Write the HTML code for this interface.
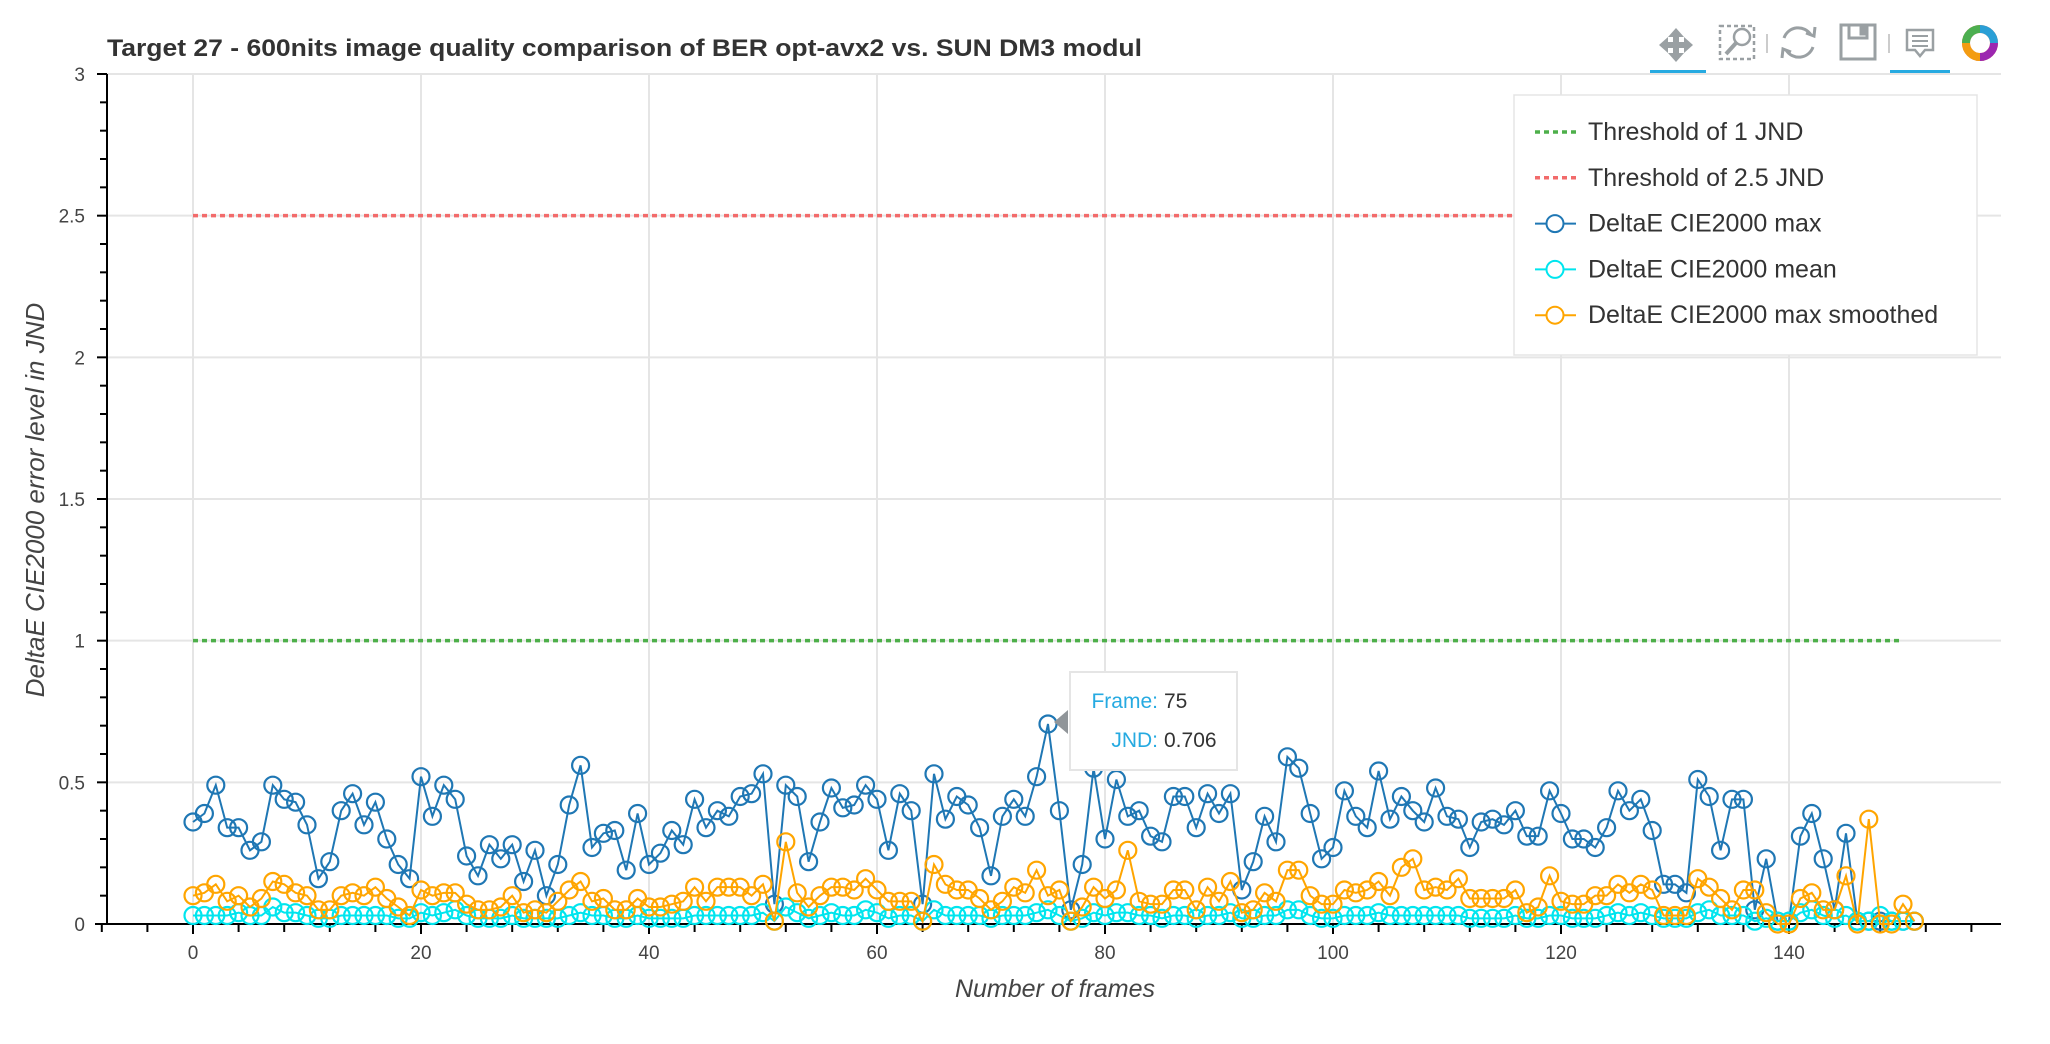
<!DOCTYPE html>
<html><head><meta charset="utf-8"><style>
html,body{margin:0;padding:0;background:#fff;}
svg{display:block;font-family:"Liberation Sans",Helvetica,Arial,sans-serif;}
</style></head><body>
<svg id="chart" width="2050" height="1044" viewBox="0 0 2050 1044" xmlns="http://www.w3.org/2000/svg">
<text x="107" y="56" font-size="24" font-weight="bold" fill="#333" textLength="1035" lengthAdjust="spacingAndGlyphs">Target 27 - 600nits image quality comparison of BER opt-avx2 vs. SUN DM3 modul</text>
<g id="toolbar">
  <g fill="#9aa0a3">
    <path d="M1676 28 l8 9 h-5 v5 h5 v-5 l9 8 -9 8 v-5 h-5 v5 h5 l-8 9 -8 -9 h5 v-5 h-5 v5 l-9 -8 9 -8 v5 h5 v-5 h-5z"/>
    <rect x="1650" y="70" width="56" height="4" fill="#26aae1"/>
  </g>
  <g fill="none" stroke="#9aa0a3" stroke-width="2.5">
    <rect x="1720" y="26" width="34" height="33" stroke-dasharray="4 3"/>
    <circle cx="1742" cy="37" r="8"/><line x1="1736" y1="43" x2="1726" y2="54" stroke-width="4"/>
  </g>
  <line x1="1767" y1="34" x2="1767" y2="53" stroke="#ccc" stroke-width="2"/>
  <g fill="none" stroke="#9aa0a3" stroke-width="3">
    <path d="M1784 38 a15 15 0 0 1 27 -3"/><path d="M1813 47 a15 15 0 0 1 -27 3"/>
    <path d="M1806 33 l8 3 1 -9" /><path d="M1791 52 l-8 -3 -1 9"/>
  </g>
  <g fill="none" stroke="#9aa0a3" stroke-width="3">
    <rect x="1841" y="25" width="34" height="34"/><rect x="1849" y="25" width="18" height="13"/>
    <rect x="1861" y="28" width="3" height="6" fill="#9aa0a3"/>
  </g>
  <line x1="1889" y1="34" x2="1889" y2="53" stroke="#ccc" stroke-width="2"/>
  <g>
    <path d="M1907 30 h26 v20 h-8 l-5 6 -5 -6 h-8z" fill="none" stroke="#9aa0a3" stroke-width="2.5"/>
    <line x1="1912" y1="36" x2="1928" y2="36" stroke="#9aa0a3" stroke-width="2"/>
    <line x1="1912" y1="41" x2="1928" y2="41" stroke="#9aa0a3" stroke-width="2"/>
    <line x1="1912" y1="46" x2="1928" y2="46" stroke="#9aa0a3" stroke-width="2"/>
    <rect x="1890" y="70" width="60" height="4" fill="#26aae1"/>
  </g>
  <g fill="none" stroke-width="8">
    <circle cx="1980" cy="43" r="14" stroke="#e63" />
    <path d="M1980 29 a14 14 0 0 1 14 14" stroke="#2a9fd6"/>
    <path d="M1994 43 a14 14 0 0 1 -14 14" stroke="#9c27b0"/>
    <path d="M1980 57 a14 14 0 0 1 -14 -14" stroke="#f39c12"/>
    <path d="M1966 43 a14 14 0 0 1 14 -14" stroke="#4caf50"/>
  </g>
</g>
<g id="grid"></g>
<g id="axes"></g>
<g id="series"></g>
<text transform="translate(44,500) rotate(-90)" text-anchor="middle" font-size="26" font-style="italic" fill="#444">DeltaE CIE2000  error level in JND</text>
<text x="1055" y="997" text-anchor="middle" font-size="25" font-style="italic" fill="#444">Number of frames</text>
<g id="legend">
  <rect x="1514" y="95" width="463" height="260" fill="#fff" stroke="#e5e5e5" stroke-width="1.5"/>
</g>
<g id="tooltip">
  <path d="M1054 722 L1068 710 L1068 734 Z" fill="#909599"/>
  <rect x="1070" y="672" width="167" height="98" fill="#fff" stroke="#e5e5e5" stroke-width="2"/>
  <text x="1158" y="708" text-anchor="end" font-size="21" fill="#26aae1">Frame:</text>
  <text x="1164" y="708" font-size="21" fill="#333">75</text>
  <text x="1158" y="747" text-anchor="end" font-size="21" fill="#26aae1">JND:</text>
  <text x="1164" y="747" font-size="21" fill="#333">0.706</text>
</g>
</svg>
<script>
const NS='http://www.w3.org/2000/svg';
const xTicks=[0,20,40,60,80,100,120,140];
const yTicks=[0,0.5,1,1.5,2,2.5,3];
const yTickLabels=['0','0.5','1','1.5','2','2.5','3'];
const thresholds=[1,2.5];
const maxVals=[0.36,0.39,0.49,0.34,0.34,0.26,0.29,0.49,0.44,0.43,0.35,0.16,0.22,0.40,0.46,0.35,0.43,0.30,0.21,0.16,0.52,0.38,0.49,0.44,0.24,0.17,0.28,0.23,0.28,0.15,0.26,0.10,0.21,0.42,0.56,0.27,0.32,0.33,0.19,0.39,0.21,0.25,0.33,0.28,0.44,0.34,0.40,0.38,0.45,0.46,0.53,0.07,0.49,0.45,0.22,0.36,0.48,0.41,0.42,0.49,0.44,0.26,0.46,0.40,0.07,0.53,0.37,0.45,0.42,0.34,0.17,0.38,0.44,0.38,0.52,0.706,0.40,0.05,0.21,0.55,0.30,0.51,0.38,0.40,0.31,0.29,0.45,0.45,0.34,0.46,0.39,0.46,0.12,0.22,0.38,0.29,0.59,0.55,0.39,0.23,0.27,0.47,0.38,0.34,0.54,0.37,0.45,0.40,0.36,0.48,0.38,0.37,0.27,0.36,0.37,0.35,0.40,0.31,0.31,0.47,0.39,0.30,0.30,0.27,0.34,0.47,0.40,0.44,0.33,0.14,0.14,0.11,0.51,0.45,0.26,0.44,0.44,0.05,0.23,0.01,0.01,0.31,0.39,0.23,0.05,0.32,0.01,0.01,0.01,0.01,0.01,0.01];
const meanVals=[0.03,0.03,0.03,0.03,0.04,0.03,0.03,0.06,0.04,0.04,0.03,0.02,0.02,0.03,0.03,0.03,0.03,0.03,0.02,0.02,0.04,0.03,0.04,0.05,0.03,0.02,0.02,0.02,0.03,0.02,0.02,0.02,0.02,0.03,0.04,0.03,0.03,0.02,0.02,0.03,0.02,0.02,0.02,0.02,0.03,0.03,0.03,0.03,0.03,0.03,0.04,0.01,0.06,0.04,0.02,0.03,0.04,0.03,0.03,0.05,0.04,0.02,0.03,0.03,0.01,0.05,0.03,0.03,0.03,0.03,0.02,0.03,0.03,0.03,0.04,0.05,0.03,0.01,0.02,0.04,0.03,0.04,0.04,0.03,0.03,0.02,0.03,0.03,0.02,0.03,0.03,0.04,0.02,0.02,0.03,0.03,0.05,0.05,0.03,0.02,0.02,0.03,0.03,0.03,0.04,0.03,0.03,0.03,0.03,0.03,0.03,0.03,0.02,0.02,0.02,0.02,0.03,0.02,0.02,0.03,0.03,0.02,0.02,0.02,0.03,0.04,0.03,0.04,0.03,0.02,0.02,0.02,0.04,0.05,0.03,0.03,0.03,0.01,0.02,0.01,0.01,0.04,0.05,0.03,0.02,0.03,0.01,0.01,0.03,0.01,0.01,0.01];
const smoothVals=[0.10,0.11,0.14,0.08,0.10,0.06,0.09,0.15,0.14,0.11,0.10,0.05,0.05,0.10,0.11,0.10,0.13,0.09,0.06,0.03,0.12,0.10,0.11,0.11,0.07,0.05,0.05,0.06,0.10,0.04,0.05,0.04,0.08,0.12,0.15,0.08,0.09,0.05,0.05,0.09,0.06,0.06,0.07,0.08,0.13,0.08,0.13,0.13,0.13,0.10,0.14,0.01,0.29,0.11,0.06,0.10,0.13,0.13,0.12,0.16,0.12,0.08,0.08,0.08,0.01,0.21,0.14,0.12,0.12,0.09,0.05,0.08,0.13,0.11,0.19,0.10,0.12,0.01,0.06,0.13,0.09,0.12,0.26,0.08,0.07,0.07,0.12,0.12,0.05,0.13,0.08,0.15,0.04,0.05,0.11,0.08,0.19,0.19,0.10,0.07,0.07,0.12,0.11,0.12,0.15,0.10,0.20,0.23,0.12,0.13,0.12,0.16,0.09,0.09,0.09,0.09,0.12,0.04,0.06,0.17,0.08,0.07,0.07,0.10,0.10,0.14,0.11,0.14,0.12,0.03,0.03,0.03,0.16,0.13,0.09,0.05,0.12,0.12,0.04,0.00,0.00,0.09,0.11,0.05,0.05,0.17,0.00,0.37,0.00,0.00,0.07,0.01];
const legendLabels=['Threshold of 1 JND','Threshold of 2.5 JND','DeltaE CIE2000 max','DeltaE CIE2000 mean','DeltaE CIE2000 max smoothed'];

const X0=193, XU=11.4, Y0=924, YU=283.33, LEFT=107, RIGHT=2001, TOP=74;
const sx=v=>X0+v*XU, sy=v=>Y0-v*YU;
function mk(tag,attrs,parent){const e=document.createElementNS(NS,tag);for(const k in attrs)e.setAttribute(k,attrs[k]);parent.appendChild(e);return e;}
const grid=document.getElementById('grid'), axes=document.getElementById('axes'), series=document.getElementById('series'), legend=document.getElementById('legend');

xTicks.forEach(t=>{const l=mk('line',{x1:sx(t),x2:sx(t),y1:TOP,y2:Y0,stroke:'#e5e5e5','stroke-width':2},grid);

});
yTicks.forEach(t=>{if(t===0)return;const l=mk('line',{x1:LEFT,x2:RIGHT,y1:sy(t),y2:sy(t),stroke:'#e5e5e5','stroke-width':2},grid);

});

mk('line',{x1:LEFT,x2:LEFT,y1:TOP,y2:Y0+1,stroke:'#000','stroke-width':2},axes);
mk('line',{x1:LEFT-12,x2:RIGHT,y1:Y0,y2:Y0,stroke:'#000','stroke-width':2},axes);
for(let v=-8;v<=156;v+=4){const major=v%20===0;mk('line',{x1:sx(v),x2:sx(v),y1:Y0,y2:Y0+(major?10:8),stroke:'#000','stroke-width':2},axes);}
for(let i=0;i<=30;i++){const v=i/10;const major=i%5===0;mk('line',{x1:LEFT-(major?10:7),x2:LEFT,y1:sy(v),y2:sy(v),stroke:'#000','stroke-width':2},axes);}
xTicks.forEach(t=>{const tx=mk('text',{x:sx(t),y:Y0+35,'text-anchor':'middle','font-size':19,fill:'#444'},axes);tx.textContent=String(t);

});
yTicks.forEach((t,i)=>{const tx=mk('text',{x:LEFT-22,y:sy(t)+7,'text-anchor':'end','font-size':19,fill:'#444'},axes);tx.textContent=yTickLabels[i];

});

const tcolors=['#4daf4a','#f26b6b'];
thresholds.forEach((t,i)=>{const l=mk('line',{x1:sx(0),x2:sx(150),y1:sy(t),y2:sy(t),stroke:tcolors[i],'stroke-width':3.5,'stroke-dasharray':'5 4'},series);

});

function drawSeries(vals,color,name){
  const g=mk('g',{},series);
  
  
  mk('polyline',{points:vals.map((v,i)=>sx(i)+','+sy(v)).join(' '),fill:'none',stroke:color,'stroke-width':2},g);
  vals.forEach((v,i)=>{const c=mk('circle',{cx:sx(i),cy:sy(v),r:8.5,fill:'none',stroke:color,'stroke-width':2.2},g);
  
  });
}
drawSeries(maxVals,'#1f77b4','max-series');
drawSeries(meanVals,'#00e5ee','mean-series');
drawSeries(smoothVals,'#ffa500','smoothed-series');

const lcolors=['#4daf4a','#f26b6b','#1f77b4','#00e5ee','#ffa500'];
legendLabels.forEach((lab,i)=>{
  const y=132+i*45.8;
  const g=mk('g',{},legend);
  
  
  if(i<2){mk('line',{x1:1535,x2:1576,y1:y,y2:y,stroke:lcolors[i],'stroke-width':3.5,'stroke-dasharray':'5 4'},g);}
  else{mk('line',{x1:1535,x2:1576,y1:y,y2:y,stroke:lcolors[i],'stroke-width':2},g);mk('circle',{cx:1555,cy:y,r:8.5,fill:'#fff',stroke:lcolors[i],'stroke-width':2},g);}
  const t=mk('text',{x:1588,y:y+8,'font-size':25,fill:'#333'},g);t.textContent=lab;
});
</script>
</body></html>
